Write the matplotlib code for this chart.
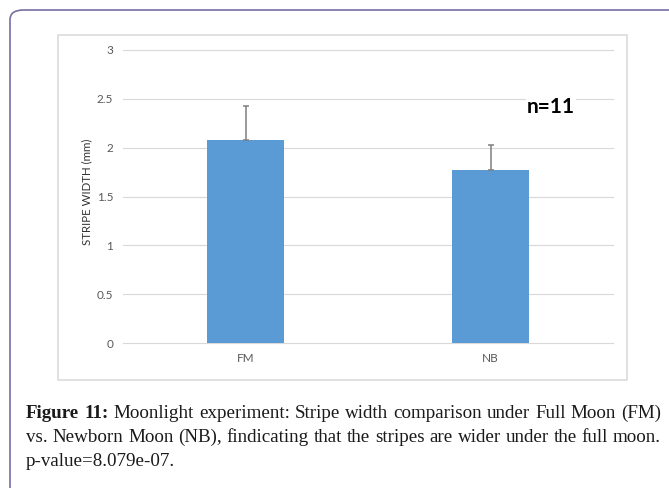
import matplotlib.pyplot as plt
from matplotlib.patches import FancyBboxPatch, Rectangle

# data
groups = ['FM', 'NB']
width_mm = [2.08, 1.77]
err_up = [0.35, 0.26]
y_ticks = [0, 0.5, 1, 1.5, 2, 2.5, 3]
y_tick_labels = ['0', '0.5', '1', '1.5', '2', '2.5', '3']

caption_lines = [
    [('Figure', True), ('11:', True), ('Moonlight', False), ('experiment:', False),
     ('Stripe', False), ('width', False), ('comparison', False), ('under', False),
     ('Full', False), ('Moon', False), ('(FM)', False)],
    [('vs.', False), ('Newborn', False), ('Moon', False), ('(NB),', False),
     ('findicating', False), ('that', False), ('the', False), ('stripes', False),
     ('are', False), ('wider', False), ('under', False), ('the', False),
     ('full', False), ('moon.', False)],
    [('p-value=8.079e-07.', False)],
]

W, H = 669, 488
fig = plt.figure(figsize=(W / 100, H / 100), dpi=100)

def fx(px):
    return px / W

def fy(py):
    # pixel measured from the top
    return 1 - py / H

# outer rounded frame of the figure panel
outer = FancyBboxPatch((fx(10), fy(500)), fx(700), fy(10) - fy(500),
                       boxstyle='round,pad=0,rounding_size=0.02',
                       transform=fig.transFigure, fill=False,
                       edgecolor='#7470a3', linewidth=1.2, clip_on=False)
fig.patches.append(outer)

# light grey chart area border
inner = Rectangle((fx(58), fy(380)), fx(627) - fx(58), fy(35) - fy(380),
                  transform=fig.transFigure, fill=False,
                  edgecolor='#d9d9d9', linewidth=1.1)
fig.patches.append(inner)

ax = fig.add_axes([fx(123), fy(343), fx(613) - fx(123), fy(50) - fy(343)])
x = range(len(groups))
ax.bar(x, width_mm, width=0.315, color='#5b9bd5', zorder=3,
       yerr=[[0] * len(err_up), err_up], ecolor='#7f7f7f',
       error_kw=dict(elinewidth=1.1, capsize=2.3, capthick=1.1, zorder=4))

ax.set_xlim(-0.5, 1.5)
ax.set_ylim(0, 3)
ax.set_yticks(y_ticks)
ax.set_yticklabels(y_tick_labels)
ax.set_xticks(list(x))
ax.set_xticklabels(groups)
for s in ax.spines.values():
    s.set_visible(False)
ax.yaxis.grid(True, color='#d9d9d9', linewidth=0.8, zorder=0)
for gl in ax.get_ygridlines():
    gl.set_clip_on(False)
ax.set_axisbelow(True)
ax.tick_params(length=0, labelsize=8.5, labelcolor='#595959')
ax.tick_params(axis='y', pad=7)
ax.tick_params(axis='x', pad=7)
for lab in ax.get_xticklabels() + ax.get_yticklabels():
    lab.set_family('Lato')

ax.text((87 - 123) / 490, 0.517, 'STRIPE WIDTH (mm)', transform=ax.transAxes,
        rotation=90, ha='center', va='center', fontsize=8.3, color='#333333',
        family='Lato')

fig.text(fx(527), fy(113), 'n=11', ha='left', va='baseline', fontsize=15,
         fontweight='bold', family='Lato', color='black',
         bbox=dict(facecolor='white', edgecolor='none', pad=1))

# caption, justified word by word
renderer = fig.canvas.get_renderer()
left, right = 26, 661
baselines = [418, 442, 466]
for words, base in zip(caption_lines, baselines):
    arts = []
    for w, bold in words:
        t = fig.text(0, fy(base), w, fontsize=13.7, family='Liberation Serif',
                     fontweight='bold' if bold else 'normal', va='baseline',
                     color='#1a1a1a')
        arts.append(t)
    widths = [a.get_window_extent(renderer).width for a in arts]
    if len(arts) > 1 and base != baselines[-1]:
        gap = (right - left - sum(widths)) / (len(arts) - 1)
    else:
        gap = 4
    pos = left
    for a, wd in zip(arts, widths):
        a.set_x(fx(pos))
        pos += wd + gap

fig.savefig('out.png', dpi=100)
